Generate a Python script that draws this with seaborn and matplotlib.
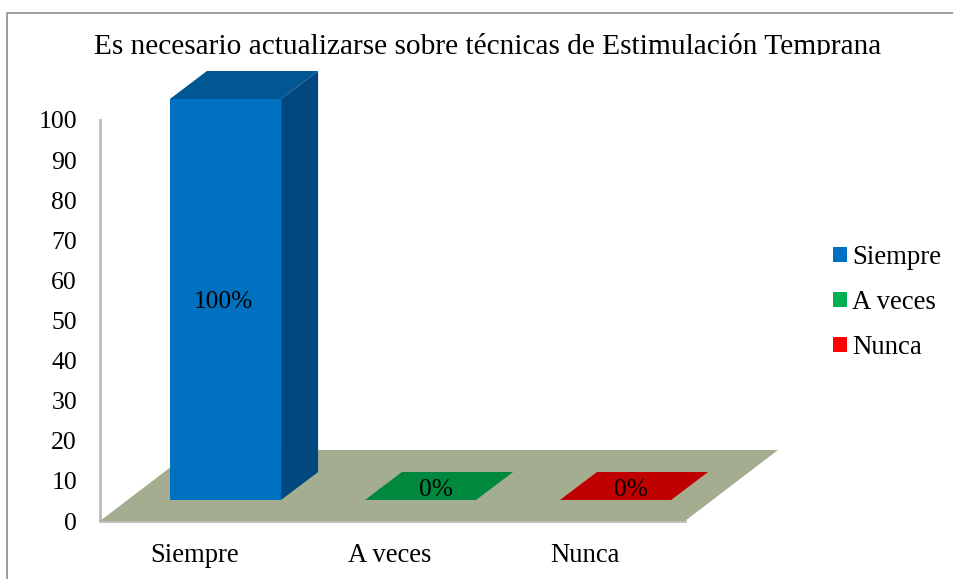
import matplotlib
matplotlib.use("Agg")
import matplotlib.pyplot as plt
from matplotlib.lines import Line2D
from matplotlib.patches import Polygon
from matplotlib.transforms import Bbox, IdentityTransform, ScaledTranslation
import pandas as pd
import seaborn as sns

categories = ["Siempre", "A veces", "Nunca"]
values = [100, 0, 0]
value_labels = ["100%", "0%", "0%"]
y_ticks = [0, 10, 20, 30, 40, 50, 60, 70, 80, 90, 100]
title = "Es necesario actualizarse sobre técnicas de Estimulación Temprana"

front_colors = ["#0070C0", "#00B050", "#FF0000"]
top_colors = ["#005794", "#00893E", "#C00000"]
side_colors = ["#00487D", "#006B30", "#960000"]

W, H = 954, 579
sns.set_theme(style="white")
plt.rcParams["font.family"] = ["Liberation Serif", "DejaVu Serif"]
fig = plt.figure(figsize=(W / 100, H / 100), dpi=100)


def box(x0, y_top, x1, y_bot):
    return [x0 / W, (H - y_bot) / H, (x1 - x0) / W, (y_bot - y_top) / H]


# Back wall / floor frame carrying the axis labels
ax_frame = fig.add_axes(box(100, 120, 685, 521))
ax_frame.set_xlim(-0.5, 2.5)
ax_frame.set_ylim(0, 100)
ax_frame.set_yticks(y_ticks)
ax_frame.set_xticks(range(len(categories)), categories)
ax_frame.tick_params(axis="both", length=0, labelsize=18.5, colors="black")
ax_frame.tick_params(axis="y", pad=16.5)
ax_frame.tick_params(axis="x", labelsize=19.2, pad=16)
ax_frame.patch.set_alpha(0)
for label in ax_frame.get_xticklabels():
    label.set_transform(label.get_transform() + ScaledTranslation(-2.5 / 100, 0, fig.dpi_scale_trans))
for name, spine in ax_frame.spines.items():
    spine.set_visible(name in ("left", "bottom"))
    spine.set_color("#BDBDBD")
    spine.set_linewidth(2)
    spine.set_zorder(1)

# Plane in which the bars stand, pushed back into the floor
ax = fig.add_axes(box(128, 99, 713, 500))
df = pd.DataFrame({"categoria": categories, "valor": values})
sns.barplot(data=df, x="categoria", y="valor", hue="categoria",
            palette=front_colors, width=0.57, dodge=False, legend=False,
            saturation=1, linewidth=0, edgecolor="none", ax=ax)
ax.set_xlim(-0.5, 2.5)
ax.set_ylim(0, 100)
ax.axis("off")
fig.canvas.draw()

# Floor parallelogram, in pixels from the frame axes
fx0, fy0 = ax_frame.transAxes.transform((0, 0))
fx1, _ = ax_frame.transAxes.transform((1, 0))
FD_X, FD_Y = 93, 71
fig.add_artist(Polygon([(fx0, fy0), (fx1, fy0), (fx1 + FD_X, fy0 + FD_Y), (fx0 + FD_X, fy0 + FD_Y)],
                       closed=True, transform=IdentityTransform(),
                       facecolor="#A5AD91", edgecolor="none", zorder=0.5))

# Depth faces of each bar
DX, DY = 37, 28
for patch, top_c, side_c, lab in zip(ax.patches, top_colors, side_colors, value_labels):
    bb = patch.get_window_extent()
    x0, x1, y0, y1 = bb.x0, bb.x1, bb.y0, bb.y1
    tall = y1 - y0 > 1
    if tall:
        fig.add_artist(Polygon([(x1, y0), (x1 + DX, y0 + DY), (x1 + DX, y1 + DY), (x1, y1)],
                               closed=True, transform=IdentityTransform(),
                               facecolor=side_c, edgecolor="none", zorder=1.5))
    fig.add_artist(Polygon([(x0, y1), (x1, y1), (x1 + DX, y1 + DY), (x0 + DX, y1 + DY)],
                           closed=True, transform=IdentityTransform(),
                           facecolor=top_c, edgecolor="none", zorder=1.5))
    px = (x0 + x1) / 2 + (-2 if tall else DX / 2 - 3)
    py = (y0 + y1) / 2 + (-2 if tall else DY / 2 - 3.5)
    fig.text(px / W, py / H, lab, ha="center", va="center", fontsize=18.3, color="black", zorder=5)

ax.set_zorder(2)
ax.patch.set_alpha(0)

# Title, cut at its lower edge as in the source image
t = fig.text(487.5 / W, (H - 53.5) / H, title, ha="center", va="baseline", fontsize=21.2, color="black")
t.set_clip_box(Bbox([[0, H - 55], [W, H]]))
t.set_clip_on(True)

# Legend
handles = [Polygon([(0, 0), (1, 0), (1, 1), (0, 1)], closed=True, facecolor=c, edgecolor="none")
           for c in front_colors]
fig.legend(handles, categories, loc="center left", bbox_to_anchor=(833 / W, (H - 302.5) / H),
           frameon=False, fontsize=19.3, labelcolor="black", handlelength=0.52, handleheight=0.52,
           handletextpad=0.18, labelspacing=0.75, borderpad=0, borderaxespad=0)

# Picture frame on the top and left only
fig.add_artist(Line2D([7 / W, 7 / W, 1], [0, (H - 12.5) / H, (H - 12.5) / H],
                      color="#8C8C8C", lw=1.2))

fig.savefig("out.png", dpi=100)
